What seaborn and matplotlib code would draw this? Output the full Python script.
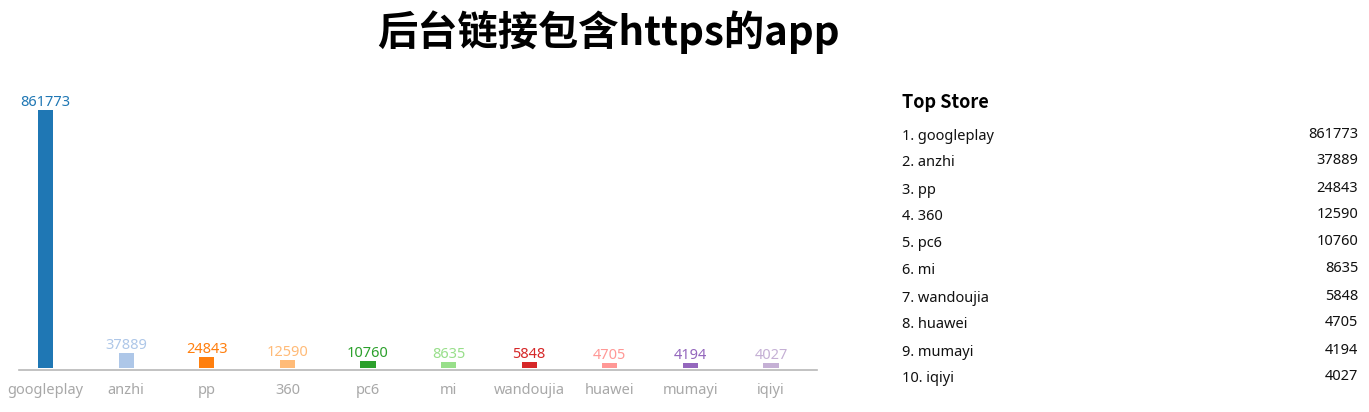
import matplotlib
matplotlib.use('Agg')
import matplotlib.pyplot as plt
import seaborn as sns
import pandas as pd

# Data
stores = ['googleplay', 'anzhi', 'pp', '360', 'pc6', 'mi', 'wandoujia', 'huawei', 'mumayi', 'iqiyi']
counts = [861773, 37889, 24843, 12590, 10760, 8635, 5848, 4705, 4194, 4027]
colors = ['#1f77b4', '#aec7e8', '#ff7f0e', '#ffbb78', '#2ca02c',
          '#98df8a', '#d62728', '#ff9896', '#9467bd', '#c5b0d5']
title = '后台链接包含https的app'
list_title = 'Top Store'

sns.set_style('white')
plt.rcParams['font.family'] = ['Noto Sans', 'Noto Sans CJK SC', 'DejaVu Sans']

df = pd.DataFrame({'store': stores, 'count': counts})

W, H = 1369, 412
fig = plt.figure(figsize=(W / 100, H / 100), dpi=100)

# bar chart area (pixel box -> figure coords)
ax = fig.add_axes([19 / W, (H - 370) / H, (817 - 19) / W, (370 - 100) / H])
sns.barplot(data=df, x='store', y='count', hue='store', palette=colors,
            width=0.19, saturation=1, legend=False, ax=ax)

ymax = 861773 * 270 / 260
# echarts-like minimum bar height: bars start a few px below zero
base = ymax * 4 / 270
for p in ax.patches:
    p.set_y(-base)
    p.set_height(p.get_height() + base)
    p.set_linewidth(0)

for cont, c in zip(ax.containers, colors):
    ax.bar_label(cont, color=c, fontsize=10.5, padding=0)

ax.set_xlim(-0.33, 9.57)
ax.set_ylim(-base - ymax * 2 / 270, ymax)
ax.set_xlabel('')
ax.set_ylabel('')
ax.set_yticks([])
for s in ['top', 'right', 'left']:
    ax.spines[s].set_visible(False)
ax.spines['bottom'].set_color('#b8b8b8')
ax.spines['bottom'].set_linewidth(1.2)
ax.tick_params(axis='x', colors='#b0b0b0', labelcolor='#a8a8a8', labelsize=10.5,
               length=5, width=1, direction='out', pad=4)

fig.text(608 / W, 1 - 32 / H, title, ha='center', va='center', fontsize=29,
         fontweight='heavy', color='black', family=['Noto Sans CJK SC', 'DejaVu Sans'])

# right-hand ranking list
fig.text(902 / W, 1 - 102 / H, list_title, ha='left', va='center',
         fontsize=13, fontweight='bold', color='black',
         family=['Noto Sans CJK SC', 'DejaVu Sans'])
for i, (s, v) in enumerate(zip(stores, counts)):
    y = 136 + i * 27
    fig.text(902 / W, 1 - y / H, f'{i + 1}. {s}', ha='left', va='center',
             fontsize=10.5, color='#111111')
    fig.text(1358 / W, 1 - (y - 2) / H, str(v), ha='right', va='center',
             fontsize=10.5, color='#111111')

fig.savefig('out.png', dpi=100)
